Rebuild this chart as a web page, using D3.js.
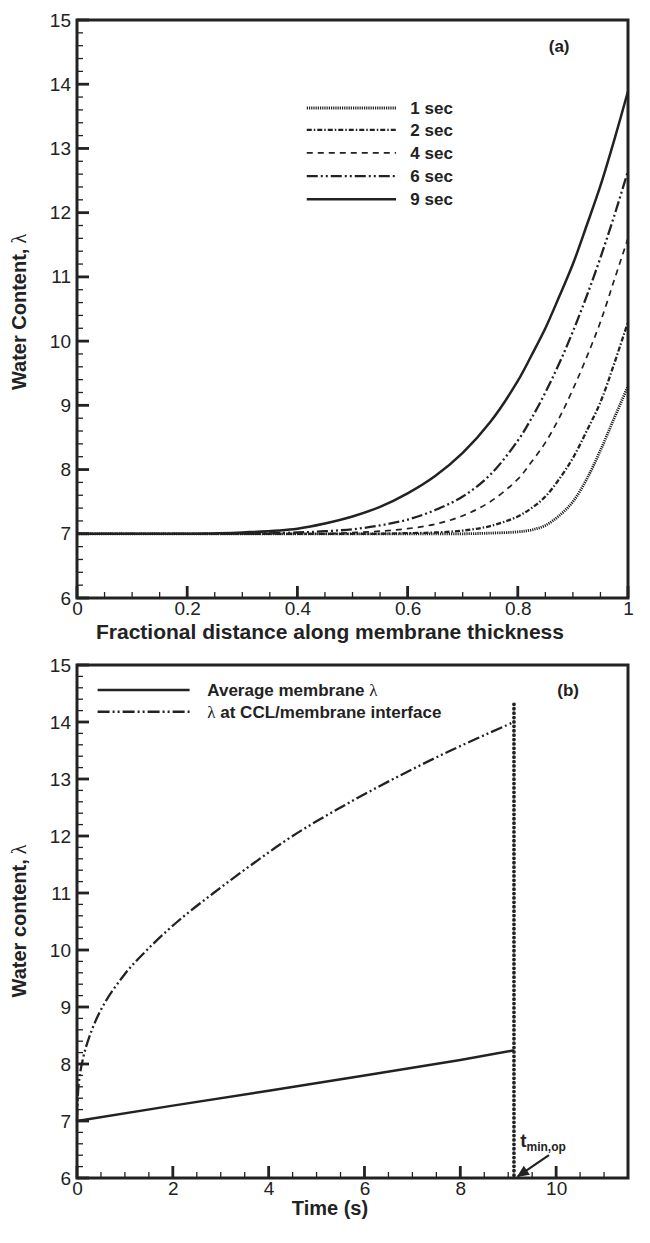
<!DOCTYPE html>
<html lang="en">
<head>
<meta charset="UTF-8">
<title>Water content</title>
<script src="https://cdnjs.cloudflare.com/ajax/libs/d3/7.8.5/d3.min.js"></script>
<style>
  body { margin: 0; background: #fff; }
  svg text { font-family: "Liberation Sans", Arial, sans-serif; fill: #222; }
</style>
</head>
<body>
<div id="chart"></div>
<script>
// ---- panel (a): profiles across the membrane ----
var fracX = [0, 0.1, 0.2, 0.3, 0.4, 0.45, 0.5, 0.55, 0.6, 0.65, 0.7, 0.75, 0.8, 0.825, 0.85, 0.875, 0.9, 0.925, 0.95, 0.975, 1.0];
var sec1 = [7, 7, 7, 7, 7, 7, 7, 7, 7, 7, 7, 7.01, 7.03, 7.06, 7.13, 7.28, 7.5, 7.85, 8.3, 8.8, 9.3];
var sec2 = [7, 7, 7, 7, 7, 7, 7, 7, 7.01, 7.02, 7.05, 7.12, 7.27, 7.4, 7.58, 7.85, 8.18, 8.6, 9.05, 9.65, 10.3];
var sec4 = [7, 7, 7, 7, 7, 7, 7.02, 7.04, 7.08, 7.15, 7.28, 7.5, 7.85, 8.12, 8.42, 8.8, 9.25, 9.75, 10.3, 10.95, 11.6];
var sec6 = [7, 7, 7, 7, 7.02, 7.04, 7.07, 7.13, 7.22, 7.37, 7.58, 7.92, 8.45, 8.8, 9.2, 9.65, 10.15, 10.7, 11.3, 11.95, 12.65];
var sec9 = [7, 7, 7, 7.02, 7.08, 7.16, 7.27, 7.42, 7.63, 7.9, 8.26, 8.74, 9.38, 9.78, 10.2, 10.69, 11.2, 11.8, 12.42, 13.13, 13.89];
var secLabels = ["1 sec", "2 sec", "4 sec", "6 sec", "9 sec"];
var fracTicks = [0, 0.2, 0.4, 0.6, 0.8, 1];
var lambdaTicks = [6, 7, 8, 9, 10, 11, 12, 13, 14, 15];

// ---- panel (b): time history ----
var tAvg = [0, 2, 4, 6, 8, 9.12];
var avgLambda = [7.0, 7.27, 7.53, 7.8, 8.07, 8.24];
var tIface = [0, 0.03, 0.1, 0.25, 0.53, 1.0, 1.46, 2.1, 2.85, 3.65, 4.5, 5.5, 6.6, 7.8, 9.12];
var ifaceLambda = [7.0, 7.6, 8.0, 8.46, 9.0, 9.58, 10.0, 10.5, 11.0, 11.5, 12.0, 12.5, 13.0, 13.5, 14.0];
var timeTicks = [0, 2, 4, 6, 8, 10];
var tMinOp = 9.12;
var bLabels = ["Average membrane \u03bb", "\u03bb at CCL/membrane interface"];

var svg = d3.select("#chart").append("svg").attr("width", 650).attr("height", 1243);
var ink = "#222";

function frame(top, bottom, xDomain, xMajor, xMinorStep, fmt) {
  var g = svg.append("g");
  var x = d3.scaleLinear().domain(xDomain).range([77, 628]);
  var y = d3.scaleLinear().domain([6, 15]).range([bottom, top]);
  var yMinor = d3.range(6, 15.001, 0.2);
  var xMinor = d3.range(xDomain[0], xDomain[1] + 1e-6, xMinorStep);

  // inward tick marks
  function xt(vals, len, w) {
    g.append("g").selectAll("line").data(vals).join("line")
      .attr("x1", d => x(d)).attr("x2", d => x(d)).attr("y1", bottom).attr("y2", bottom - len)
      .attr("stroke", ink).attr("stroke-width", w);
  }
  function yt(vals, len, w) {
    g.append("g").selectAll("line").data(vals).join("line")
      .attr("x1", 77).attr("x2", 77 + len).attr("y1", d => y(d)).attr("y2", d => y(d))
      .attr("stroke", ink).attr("stroke-width", w);
  }
  xt(xMinor, 6, 1.3);
  yt(yMinor, 6, 1.3);
  xt(xMajor, 12, 2.8);
  yt(lambdaTicks, 12, 2.8);

  var ax = g.append("g").attr("transform", "translate(0," + bottom + ")")
    .call(d3.axisBottom(x).tickValues(xMajor).tickSize(0).tickPadding(4).tickFormat(fmt));
  var ay = g.append("g").attr("transform", "translate(77,0)")
    .call(d3.axisLeft(y).tickValues(lambdaTicks).tickSize(0).tickPadding(6));
  [ax, ay].forEach(a => {
    a.select(".domain").remove();
    a.selectAll(".tick text").attr("font-size", 19).attr("fill", ink);
  });

  g.append("rect").attr("x", 77).attr("y", top).attr("width", 551).attr("height", bottom - top)
    .attr("fill", "none").attr("stroke", ink).attr("stroke-width", 3);
  return { x: x, y: y, g: g };
}

function lambdaTitle(g, text, cy) {
  var t = g.append("text").attr("transform", "translate(26," + cy + ") rotate(-90)")
    .attr("text-anchor", "middle").attr("font-size", 20).attr("font-weight", "bold");
  t.append("tspan").text(text);
  t.append("tspan").attr("font-family", "Liberation Serif").attr("font-weight", "normal").text(" \u03bb");
}

// ---------- panel (a) ----------
var A = frame(20, 598, [0, 1], fracTicks, 0.05, d3.format("~g"));
var styleA = [
  { data: sec1, dash: "1.2,1", w: 2.8 },
  { data: sec2, dash: "5,2,1.5,2", w: 2.3 },
  { data: sec4, dash: "6,5", w: 1.7 },
  { data: sec6, dash: "11,3,2,3,2,3", w: 2.3 },
  { data: sec9, dash: null, w: 2.5 }
];
var lineA = d3.line().x((d, i) => A.x(fracX[i])).y(d => A.y(d)).curve(d3.curveCatmullRom.alpha(0.5));
styleA.forEach(s => {
  A.g.append("path").attr("d", lineA(s.data)).attr("fill", "none").attr("stroke", ink)
    .attr("stroke-width", s.w).attr("stroke-dasharray", s.dash);
});
var legA = [13.63, 13.29, 12.93, 12.57, 12.21];
styleA.forEach((s, i) => {
  A.g.append("line").attr("x1", A.x(0.417)).attr("x2", A.x(0.579))
    .attr("y1", A.y(legA[i])).attr("y2", A.y(legA[i]))
    .attr("stroke", ink).attr("stroke-width", s.w).attr("stroke-dasharray", s.dash);
  A.g.append("text").attr("x", A.x(0.605)).attr("y", A.y(legA[i])).attr("dy", "0.36em")
    .attr("font-size", 17).attr("font-weight", "bold").text(secLabels[i]);
});
A.g.append("text").attr("x", A.x(0.875)).attr("y", A.y(14.6)).attr("dy", "0.36em")
  .attr("text-anchor", "middle").attr("font-size", 17).attr("font-weight", "bold").text("(a)");
A.g.append("text").attr("x", 330).attr("y", 639).attr("text-anchor", "middle")
  .attr("font-size", 21).attr("font-weight", "bold").text("Fractional distance along membrane thickness");
lambdaTitle(A.g, "Water Content,", 312);

// ---------- panel (b) ----------
var B = frame(665, 1178, [0, 11.5], timeTicks, 0.5, d3.format("d"));
var ifaceDash = "12,3,2,3,2,3";
B.g.append("path")
  .attr("d", d3.line().x((d, i) => B.x(tAvg[i])).y(d => B.y(d))(avgLambda))
  .attr("fill", "none").attr("stroke", ink).attr("stroke-width", 2.5);
B.g.append("path")
  .attr("d", d3.line().x((d, i) => B.x(tIface[i])).y(d => B.y(d)).curve(d3.curveCatmullRom.alpha(0.5))(ifaceLambda))
  .attr("fill", "none").attr("stroke", ink).attr("stroke-width", 2.3).attr("stroke-dasharray", ifaceDash);
B.g.append("line").attr("x1", B.x(tMinOp)).attr("x2", B.x(tMinOp))
  .attr("y1", B.y(6.05)).attr("y2", B.y(14.38))
  .attr("stroke", ink).attr("stroke-width", 3.8).attr("stroke-linecap", "round").attr("stroke-dasharray", "0,4.4");

var legB = [14.56, 14.18];
var dashB = [null, ifaceDash];
legB.forEach((v, i) => {
  B.g.append("line").attr("x1", B.x(0.43)).attr("x2", B.x(2.35)).attr("y1", B.y(v)).attr("y2", B.y(v))
    .attr("stroke", ink).attr("stroke-width", 2.5).attr("stroke-dasharray", dashB[i]);
  var t = B.g.append("text").attr("x", B.x(2.72)).attr("y", B.y(v)).attr("dy", "0.36em")
    .attr("font-size", 17).attr("font-weight", "bold");
  var parts = bLabels[i].split("\u03bb");
  t.append("tspan").text(parts[0]);
  t.append("tspan").attr("font-family", "Liberation Serif").attr("font-weight", "normal").text("\u03bb");
  t.append("tspan").text(parts[1]);
});
B.g.append("text").attr("x", B.x(10.25)).attr("y", B.y(14.56)).attr("dy", "0.36em")
  .attr("text-anchor", "middle").attr("font-size", 17).attr("font-weight", "bold").text("(b)");

// arrow to t_min,op
svg.append("defs").append("marker").attr("id", "head").attr("viewBox", "0 0 10 10")
  .attr("refX", 9).attr("refY", 5).attr("markerWidth", 7).attr("markerHeight", 5.5)
  .attr("markerUnits", "strokeWidth").attr("orient", "auto")
  .append("path").attr("d", "M0,0.5 L10,5 L0,9.5 z").attr("fill", ink);
B.g.append("line").attr("x1", B.x(9.85)).attr("y1", B.y(6.4)).attr("x2", B.x(9.2)).attr("y2", B.y(6.03))
  .attr("stroke", ink).attr("stroke-width", 2.2).attr("marker-end", "url(#head)");
var tl = B.g.append("text").attr("x", B.x(9.25)).attr("y", B.y(6.55)).attr("font-size", 19).attr("font-weight", "bold");
tl.append("tspan").text("t");
tl.append("tspan").attr("font-size", 12).attr("dy", 4).text("min,op");

B.g.append("text").attr("x", 330).attr("y", 1215).attr("text-anchor", "middle")
  .attr("font-size", 20).attr("font-weight", "bold").text("Time (s)");
lambdaTitle(B.g, "Water content,", 921);
</script>
</body>
</html>
